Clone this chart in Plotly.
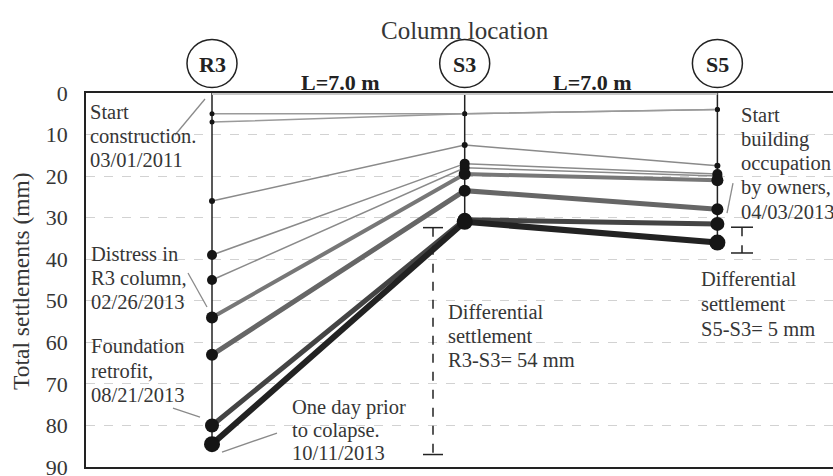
import plotly.graph_objects as go

# ---------------- data ----------------
columns = ["R3", "S3", "S5"]
column_pos_m = [0, 7, 14]
span_labels = ["L=7.0 m", "L=7.0 m"]

s_start = [0, 0, 0]
s_02 = [5, 5, 4]
s_03 = [7, 5, 4]
s_04 = [26, 12.5, 17.5]
s_05 = [39, 17, 19.5]
s_06 = [45, 18, 20]
s_07 = [54, 19.5, 21]
s_08 = [63, 23.5, 28]
s_09 = [80, 30.5, 31.5]
s_10 = [84.5, 31, 36]

y_ticks = [0, 10, 20, 30, 40, 50, 60, 70, 80, 90]

series = [s_start, s_02, s_03, s_04, s_05, s_06, s_07, s_08, s_09, s_10]
line_colors = ["#c8c8c8", "#9a9a9a", "#9a9a9a", "#8a8a8a", "#8a8a8a", "#8a8a8a",
               "#777777", "#666666", "#444444", "#222222"]
line_widths = [4, 1.5, 1.5, 1.5, 1.5, 1.5, 4, 5, 5, 6]
marker_sizes = [0, 5, 5, 6, 10, 10, 12, 12, 14, 16]

# ---------------- geometry helpers (for annotation placement) ----------------
W, H = 833, 476
ML, MT, MB = 86, 93, 9
X0PX, XS = 212.0, 36.1     # px of R3, px per metre
Y0PX, YS = 93.0, 4.155     # px of 0 mm, px per mm
xr = [(ML - X0PX) / XS, (W - X0PX) / XS]
PH = H - MT - MB


def px_x(px):
    return (px - X0PX) / XS


def px_y(py):
    return (py - Y0PX) / YS


def paper_y(py):
    return 1 - (py - MT) / PH


SERIF = "Liberation Serif"
TXT = "#363636"

fig = go.Figure()

# vertical column lines
for xi, ci in zip(column_pos_m, range(3)):
    ymax = max(s[ci] for s in series)
    fig.add_trace(go.Scatter(x=[xi, xi], y=[0, ymax], mode="lines",
                             line=dict(color="#222222", width=1.5),
                             hoverinfo="skip", showlegend=False, cliponaxis=False))

for s, c, w, m in zip(series, line_colors, line_widths, marker_sizes):
    fig.add_trace(go.Scatter(
        x=column_pos_m, y=s,
        mode="lines+markers" if m > 0 else "lines",
        line=dict(color=c, width=w),
        marker=dict(color="#151515", size=m),
        showlegend=False, cliponaxis=False))

shapes = []
annotations = []

# column circles + labels
CY = 63.5
for name, xm in zip(columns, column_pos_m):
    shapes.append(dict(type="circle", xref="x", yref="paper",
                       xsizemode="pixel", ysizemode="pixel",
                       xanchor=xm, yanchor=paper_y(CY),
                       x0=-25, x1=25, y0=-24, y1=24,
                       line=dict(color="#222222", width=1.5)))
    annotations.append(dict(x=xm, y=paper_y(CY + 1), xref="x", yref="paper",
                            text="<b>%s</b>" % name, showarrow=False,
                            xanchor="center", yanchor="middle",
                            font=dict(family=SERIF, size=22, color="#222222")))

# span labels
for i, lab in enumerate(span_labels):
    xm = (column_pos_m[i] + column_pos_m[i + 1]) / 2 + 0.05
    annotations.append(dict(x=xm, y=paper_y(82), xref="x", yref="paper",
                            text="<b>%s</b>" % lab, showarrow=False,
                            xanchor="center", yanchor="middle",
                            font=dict(family=SERIF, size=22, color="#222222")))

annotations.append(dict(x=7, y=paper_y(30), xref="x", yref="paper",
                        text="Column location", showarrow=False,
                        xanchor="center", yanchor="middle",
                        font=dict(family=SERIF, size=25, color=TXT)))

# y title
annotations.append(dict(x=0, y=paper_y(281), xref="paper", yref="paper",
                        xshift=-65, text="Total settlements (mm)", textangle=-90,
                        showarrow=False, xanchor="center", yanchor="middle",
                        font=dict(family=SERIF, size=23.5, color=TXT)))

# text annotations (x left px, first-line centre px, line spacing px, lines)
notes = [
    (88, 112, 24, ["Start", "construction.", "03/01/2011"]),
    (89, 254, 24, ["Distress in", "R3 column,", "02/26/2013"]),
    (89, 346, 24.5, ["Foundation", "retrofit,", "08/21/2013"]),
    (290, 407, 23, ["One day prior", "to colapse.", "10/11/2013"]),
    (446, 312, 24, ["Differential", "settlement", "R3-S3= 54 mm"]),
    (699, 279, 25, ["Differential", "settlement", "S5-S3= 5 mm"]),
    (739, 115, 24.3, ["Start", "building", "occupation", "by owners,", "04/03/2013"]),
]
for xp, yp, sp, lines in notes:
    for k, t in enumerate(lines):
        annotations.append(dict(x=px_x(xp), y=px_y(yp + k * sp), xref="x", yref="y",
                                text=t, showarrow=False, align="left",
                                xanchor="left", yanchor="middle",
                                font=dict(family=SERIF, size=20.5, color=TXT)))

# leader lines
leaders = [((175, 135), (205, 99)), ((188, 273), (207, 307)),
           ((173, 408), (200, 417)), ((222, 452), (277, 433)),
           ((727, 213), (733, 183))]
for (a, b) in leaders:
    shapes.append(dict(type="line", xref="x", yref="y",
                       x0=px_x(a[0]), y0=px_y(a[1]), x1=px_x(b[0]), y1=px_y(b[1]),
                       line=dict(color="#8a8a8a", width=1.3)))

# differential settlement bars (x px, top mm, bottom mm, half cap px)
diff_bars = [(433, 32.4, 87.0, 10), (742, 32.3, 38.5, 11)]
for xp, yt, yb, hc in diff_bars:
    shapes.append(dict(type="line", xref="x", yref="y", x0=px_x(xp), x1=px_x(xp),
                       y0=yt, y1=yb, line=dict(color="#222222", width=1.5, dash="dash")))
    for yy in (yt, yb):
        shapes.append(dict(type="line", xref="x", yref="y",
                           x0=px_x(xp - hc), x1=px_x(xp + hc), y0=yy, y1=yy,
                           line=dict(color="#222222", width=1.5)))

fig.update_layout(
    width=W, height=H,
    margin=dict(l=ML, r=0, t=MT, b=MB, autoexpand=False),
    plot_bgcolor="white", paper_bgcolor="white",
    shapes=shapes, annotations=annotations,
    xaxis=dict(range=xr, showgrid=False, zeroline=False, showticklabels=False,
               showline=True, mirror=True, linecolor="#222222", linewidth=1.5,
               ticks="", automargin=False),
    yaxis=dict(range=[90, 0], tickvals=y_ticks, showgrid=True,
               gridcolor="#d2d2d2", griddash="dash", gridwidth=1,
               zeroline=False, showline=True, linecolor="#222222", linewidth=1.5,
               ticks="", ticklabelstandoff=12, ticklabeloverflow="allow",
               automargin=False,
               tickfont=dict(family=SERIF, size=22, color=TXT)),
)

fig.write_html("out.html")
